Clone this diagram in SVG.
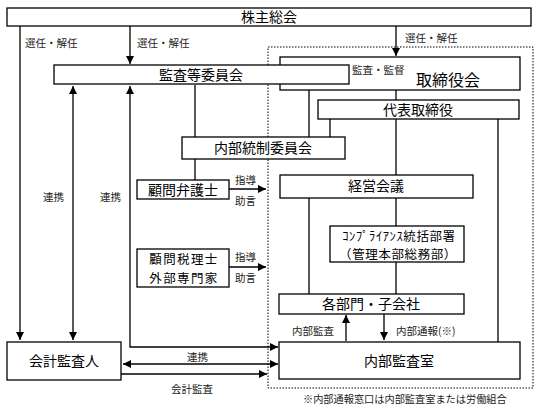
<svg xmlns="http://www.w3.org/2000/svg" width="539" height="415" viewBox="0 0 539 415">
<style>
.box{fill:#fff;stroke:#000;stroke-width:1.3}
.ln{fill:none;stroke:#000;stroke-width:1.3}
.t{font-family:"Noto Sans CJK JP","Noto Sans",sans-serif;font-size:14px;fill:#000;text-anchor:middle}
.s{font-family:"Noto Sans CJK JP","Noto Sans",sans-serif;font-size:10.5px;fill:#222}
.m{font-size:12.5px}
</style>
<defs>
<marker id="a" markerUnits="userSpaceOnUse" markerWidth="9" markerHeight="8" refX="8" refY="4" orient="auto-start-reverse" viewBox="0 0 9 8">
<path d="M0,0 L8,4 L0,8 z" fill="#000"/>
</marker>
</defs>
<rect x="268" y="47" width="265" height="341" fill="none" stroke="#000" stroke-width="1" stroke-dasharray="1.5,1.5"/>
<g id="connectors">
<path class="ln" d="M20,26 V340" marker-end="url(#a)"/>
<path class="ln" d="M130,26 V64" marker-end="url(#a)"/>
<path class="ln" d="M396,26 V56" marker-end="url(#a)"/>
<path class="ln" d="M73,86 V340" marker-start="url(#a)" marker-end="url(#a)"/>
<path class="ln" d="M130,86 V347 H278" marker-start="url(#a)" marker-end="url(#a)"/>
<path class="ln" d="M349,77 H414" marker-end="url(#a)"/>
<path class="ln" d="M195,85 V137 M195,159 V180"/>
<path class="ln" d="M309,90 V137 M309,198 V294"/>
<path class="ln" d="M396,90 V100"/>
<path class="ln" d="M330,119 V137"/>
<path class="ln" d="M396,119 V175 M396,198 V226 M396,262 V294"/>
<path class="ln" d="M498,119 V342"/>
<path class="ln" d="M229,189 H266" marker-end="url(#a)"/>
<path class="ln" d="M229,267 H266" marker-end="url(#a)"/>
<path class="ln" d="M346,341 V315" marker-end="url(#a)"/>
<path class="ln" d="M384,314 V340" marker-end="url(#a)"/>
<path class="ln" d="M123,364 H278" marker-start="url(#a)" marker-end="url(#a)"/>
<path class="ln" d="M121,374 H267" marker-end="url(#a)"/>
</g>
<g id="kabunushi"><rect class="box" x="7" y="8" width="524" height="18"/><text class="t" x="269" y="22">株主総会</text></g>
<g id="torishimariyakukai"><rect class="box" x="280" y="57" width="240" height="33"/><text class="t" x="448" y="86" style="font-size:16px">取締役会</text></g>
<g id="kansatou"><rect class="box" x="54" y="65" width="295" height="19"/><text class="t" x="201" y="80">監査等委員会</text></g>
<g id="daihyou"><rect class="box" x="318" y="100" width="201" height="19"/><text class="t" x="418" y="115">代表取締役</text></g>
<g id="naibutousei"><rect class="box" x="182" y="137" width="163" height="22"/><text class="t" x="263" y="153">内部統制委員会</text></g>
<g id="bengoshi"><rect class="box" x="137" y="180" width="92" height="19"/><text class="t" x="183" y="195">顧問弁護士</text></g>
<g id="keiei"><rect class="box" x="280" y="175" width="193" height="23"/><text class="t" x="376" y="191">経営会議</text></g>
<g id="compliance"><rect class="box" x="330" y="226" width="134" height="36"/><text class="t m" x="399" y="240.5" style="letter-spacing:0.6px">ｺﾝﾌﾟﾗｲｱﾝｽ統括部署</text><text class="t m" x="398" y="259" style="letter-spacing:0.6px">（管理本部総務部）</text></g>
<g id="zeirishi"><rect class="box" x="137" y="249" width="92" height="38"/><text class="t m" x="184" y="264" style="letter-spacing:1.4px">顧問税理士</text><text class="t m" x="184" y="282.5" style="letter-spacing:1.4px">外部専門家</text></g>
<g id="kakubumon"><rect class="box" x="279" y="294" width="185" height="20"/><text class="t" x="371" y="309">各部門・子会社</text></g>
<g id="kaikei"><rect class="box" x="7" y="342" width="114" height="38"/><text class="t" x="64" y="366">会計監査人</text></g>
<g id="naibukansa"><rect class="box" x="279" y="342" width="241" height="37"/><text class="t" x="399" y="366">内部監査室</text></g>
<g id="labels">
<text class="s" x="25" y="47">選任・解任</text>
<text class="s" x="137" y="47">選任・解任</text>
<text class="s" x="405" y="42">選任・解任</text>
<text class="s" x="352" y="74">監査・監督</text>
<text class="s" x="43" y="201">連携</text>
<text class="s" x="100" y="201">連携</text>
<text class="s" x="235" y="184">指導</text>
<text class="s" x="235" y="205">助言</text>
<text class="s" x="235" y="261">指導</text>
<text class="s" x="235" y="282">助言</text>
<text class="s" x="292" y="335">内部監査</text>
<text class="s" x="396" y="335">内部通報(※)</text>
<text class="s" x="187" y="361">連携</text>
<text class="s" x="171" y="393">会計監査</text>
<text class="s" x="303" y="403" style="font-size:10.2px">※内部通報窓口は内部監査室または労働組合</text>
</g>
</svg>
